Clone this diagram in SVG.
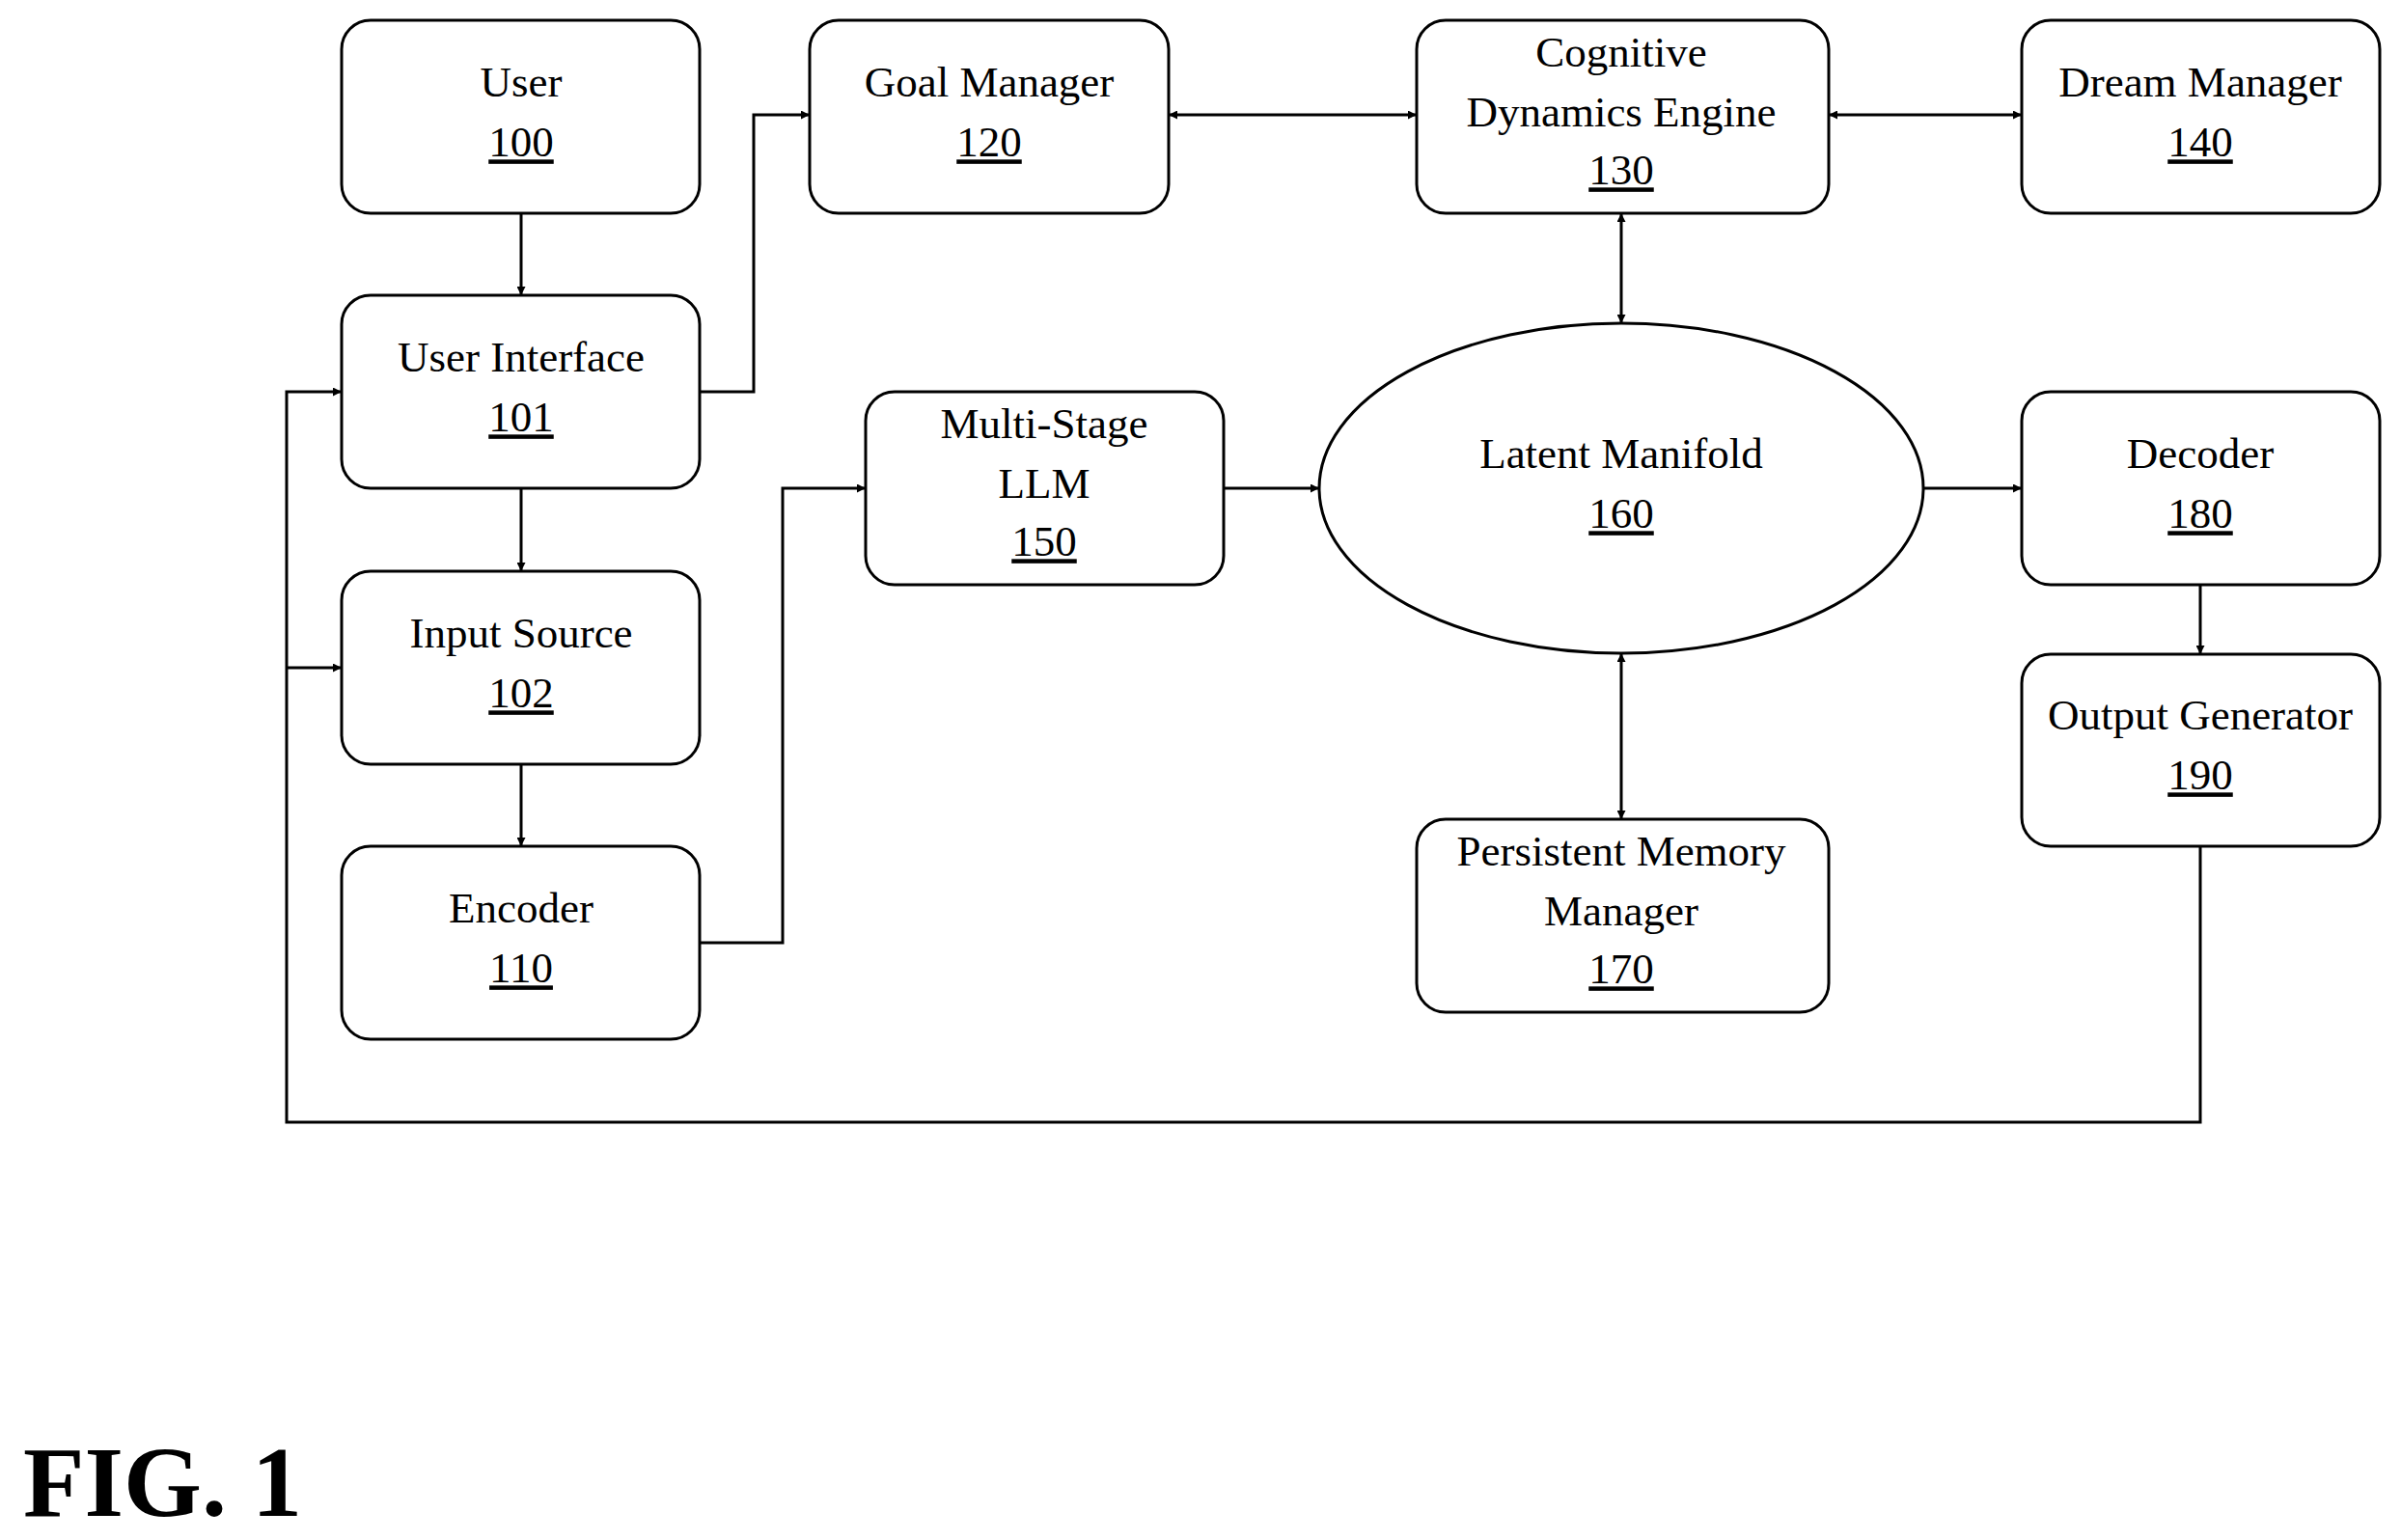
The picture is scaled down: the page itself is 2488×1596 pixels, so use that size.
<svg xmlns="http://www.w3.org/2000/svg" width="2488" height="1596" viewBox="0 0 2488 1596">
<style>
rect,ellipse{fill:#fff;stroke:#000;stroke-width:3}
text{font-family:"Liberation Serif",serif;font-size:45px;text-anchor:middle;dominant-baseline:middle;fill:#000}
.u{text-decoration:underline}
.c path{fill:none;stroke:#000;stroke-width:3}
</style>
<defs>
<marker id="a" viewBox="0 0 10 10" refX="10" refY="5" markerWidth="9" markerHeight="9" orient="auto-start-reverse" markerUnits="userSpaceOnUse"><path d="M0,0L10,5L0,10z" fill="#000"/></marker>
</defs>
<rect width="2488" height="1596" style="stroke:none"/>
<g class="c">
<path d="M540,221V306" marker-end="url(#a)"/>
<path d="M540,506V592" marker-end="url(#a)"/>
<path d="M540,792V877" marker-end="url(#a)"/>
<path d="M725,406H781V119H839" marker-end="url(#a)"/>
<path d="M1211,119H1468" marker-start="url(#a)" marker-end="url(#a)"/>
<path d="M1895,119H2095" marker-start="url(#a)" marker-end="url(#a)"/>
<path d="M1680,221V335" marker-start="url(#a)" marker-end="url(#a)"/>
<path d="M1680,677V849" marker-start="url(#a)" marker-end="url(#a)"/>
<path d="M725,977H811V506H897" marker-end="url(#a)"/>
<path d="M1268,506H1367" marker-end="url(#a)"/>
<path d="M1993,506H2095" marker-end="url(#a)"/>
<path d="M2280,606V678" marker-end="url(#a)"/>
<path d="M2280,877V1163H297V406H354" marker-end="url(#a)"/>
<path d="M297,692H354" marker-end="url(#a)"/>
</g>
<g id="n100"><rect x="354" y="21" width="371" height="200" rx="30"/><text x="540" y="90">User</text><text x="540" y="152" class="u">100</text></g>
<g id="n101"><rect x="354" y="306" width="371" height="200" rx="30"/><text x="540" y="375">User Interface</text><text x="540" y="437" class="u">101</text></g>
<g id="n102"><rect x="354" y="592" width="371" height="200" rx="30"/><text x="540" y="661">Input Source</text><text x="540" y="723" class="u">102</text></g>
<g id="n110"><rect x="354" y="877" width="371" height="200" rx="30"/><text x="540" y="946">Encoder</text><text x="540" y="1008" class="u">110</text></g>
<g id="n120"><rect x="839" y="21" width="372" height="200" rx="30"/><text x="1025" y="90">Goal Manager</text><text x="1025" y="152" class="u">120</text></g>
<g id="n130"><rect x="1468" y="21" width="427" height="200" rx="30"/><text x="1680" y="59">Cognitive</text><text x="1680" y="121">Dynamics Engine</text><text x="1680" y="181" class="u">130</text></g>
<g id="n140"><rect x="2095" y="21" width="371" height="200" rx="30"/><text x="2280" y="90">Dream Manager</text><text x="2280" y="152" class="u">140</text></g>
<g id="n150"><rect x="897" y="406" width="371" height="200" rx="30"/><text x="1082" y="444">Multi-Stage</text><text x="1082" y="506">LLM</text><text x="1082" y="566" class="u">150</text></g>
<g id="n160"><ellipse cx="1680" cy="506" rx="313" ry="171"/><text x="1680" y="475">Latent Manifold</text><text x="1680" y="537" class="u">160</text></g>
<g id="n170"><rect x="1468" y="849" width="427" height="200" rx="30"/><text x="1680" y="887">Persistent Memory</text><text x="1680" y="949">Manager</text><text x="1680" y="1009" class="u">170</text></g>
<g id="n180"><rect x="2095" y="406" width="371" height="200" rx="30"/><text x="2280" y="475">Decoder</text><text x="2280" y="537" class="u">180</text></g>
<g id="n190"><rect x="2095" y="678" width="371" height="199" rx="30"/><text x="2280" y="746">Output Generator</text><text x="2280" y="808" class="u">190</text></g>
<text x="24" y="1571" style="font-size:104px;font-weight:bold;text-anchor:start;dominant-baseline:alphabetic">FIG. 1</text>
</svg>
